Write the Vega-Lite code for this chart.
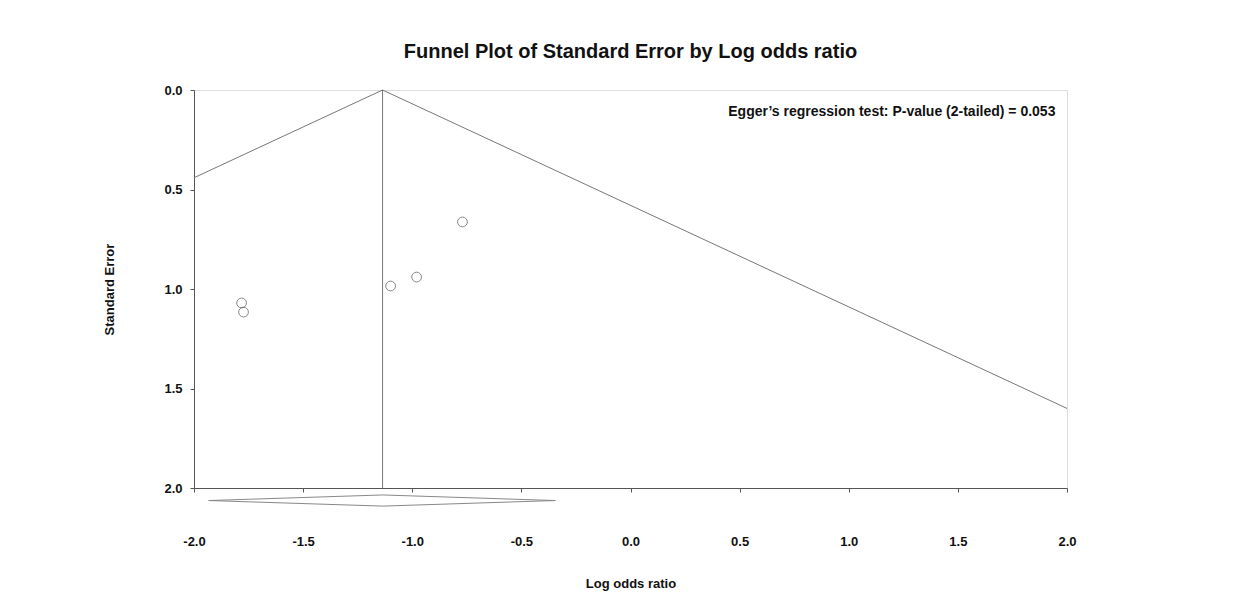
{
  "$schema": "https://vega.github.io/schema/vega-lite/v6.json",
  "autosize": {"type": "none"},
  "width": 873,
  "height": 398,
  "padding": {"left": 194, "top": 90, "right": 183, "bottom": 125},
  "background": "white",
  "config": {
    "font": "Liberation Sans",
    "view": {"stroke": "#dddddd", "strokeWidth": 1}
  },
  "title": {
    "text": "Funnel Plot of Standard Error by Log odds ratio",
    "font": "Liberation Sans",
    "fontSize": 20,
    "fontWeight": "bold",
    "color": "#111111",
    "anchor": "middle",
    "offset": 22
  },
  "datasets": {
    "studies": [
      {"log_or": -1.782, "se": 1.070},
      {"log_or": -1.773, "se": 1.116},
      {"log_or": -1.099, "se": 0.985},
      {"log_or": -0.980, "se": 0.940},
      {"log_or": -0.770, "se": 0.663}
    ],
    "funnel": [
      {"step": 1, "log_or": -2.0, "se": 0.441},
      {"step": 2, "log_or": -1.136, "se": 0.0},
      {"step": 3, "log_or": 2.0, "se": 1.6}
    ],
    "summary": [
      {"step": 1, "log_or": -1.933, "se": 2.063},
      {"step": 2, "log_or": -1.136, "se": 2.035},
      {"step": 3, "log_or": -0.344, "se": 2.063},
      {"step": 4, "log_or": -1.136, "se": 2.091},
      {"step": 5, "log_or": -1.933, "se": 2.063}
    ],
    "egger": [
      {"log_or": 1.947, "se": 0.11, "label": "Egger’s regression test: P-value (2-tailed) = 0.053"}
    ],
    "pooled": [
      {"log_or": -1.136, "se_top": 0, "se_bottom": 2}
    ]
  },
  "layer": [
    {
      "data": {"name": "funnel"},
      "mark": {"type": "line", "color": "#777777", "strokeWidth": 1},
      "encoding": {
        "x": {
          "field": "log_or", "type": "quantitative",
          "scale": {"domain": [-2, 2], "nice": false, "zero": false},
          "axis": {
            "title": "Log odds ratio",
            "values": [-2, -1.5, -1, -0.5, 0, 0.5, 1, 1.5, 2],
            "labelExpr": "(datum.value < 0 ? '-' : '') + format(abs(datum.value), '.1f')",
            "grid": false,
            "domainColor": "#555555",
            "tickColor": "#555555",
            "tickSize": 4,
            "labelFont": "Liberation Sans",
            "labelFontSize": 13,
            "labelFontWeight": "bold",
            "labelColor": "#111111",
            "labelPadding": 43,
            "labelFlush": false,
            "titleFont": "Liberation Sans",
            "titleFontSize": 13,
            "titleFontWeight": "bold",
            "titleColor": "#111111",
            "titlePadding": 29
          }
        },
        "y": {
          "field": "se", "type": "quantitative",
          "scale": {"domain": [0, 2], "reverse": true, "nice": false},
          "axis": {
            "title": "Standard Error",
            "values": [0, 0.5, 1, 1.5, 2],
            "format": ".1f",
            "grid": false,
            "domainColor": "#555555",
            "tickColor": "#555555",
            "tickSize": 4,
            "labelFont": "Liberation Sans",
            "labelFontSize": 13,
            "labelFontWeight": "bold",
            "labelColor": "#111111",
            "labelPadding": 8,
            "labelFlush": false,
            "titleFont": "Liberation Sans",
            "titleFontSize": 13,
            "titleFontWeight": "bold",
            "titleColor": "#111111",
            "titlePadding": 47
          }
        },
        "order": {"field": "step"}
      }
    },
    {
      "data": {"name": "pooled"},
      "mark": {"type": "rule", "color": "#777777", "strokeWidth": 1},
      "encoding": {
        "x": {"field": "log_or", "type": "quantitative"},
        "y": {"field": "se_top", "type": "quantitative"},
        "y2": {"field": "se_bottom"}
      }
    },
    {
      "data": {"name": "summary"},
      "mark": {"type": "line", "color": "#888888", "strokeWidth": 1, "clip": false},
      "encoding": {
        "x": {"field": "log_or", "type": "quantitative"},
        "y": {"field": "se", "type": "quantitative"},
        "order": {"field": "step"}
      }
    },
    {
      "data": {"name": "studies"},
      "mark": {"type": "point", "shape": "circle", "filled": false, "color": "#555555", "size": 95, "strokeWidth": 1},
      "encoding": {
        "x": {"field": "log_or", "type": "quantitative"},
        "y": {"field": "se", "type": "quantitative"}
      }
    },
    {
      "data": {"name": "egger"},
      "mark": {"type": "text", "align": "right", "baseline": "middle", "font": "Liberation Sans", "fontSize": 14, "fontWeight": "bold", "color": "#111111"},
      "encoding": {
        "x": {"field": "log_or", "type": "quantitative"},
        "y": {"field": "se", "type": "quantitative"},
        "text": {"field": "label"}
      }
    }
  ]
}
